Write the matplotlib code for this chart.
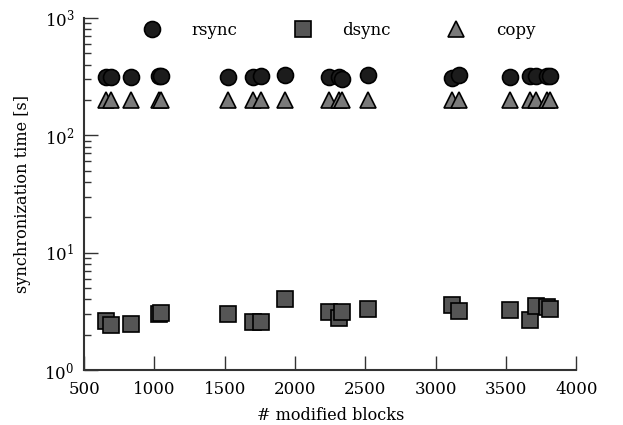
import matplotlib
matplotlib.use("Agg")
import matplotlib.pyplot as plt

# data
blocks = [654, 692, 832, 1036, 1048, 1522, 1704, 1757, 1930, 2238,
          2311, 2333, 2522, 3113, 3167, 3530, 3672, 3712, 3791, 3810]
rsync = [313, 313, 313, 318, 318, 313, 313, 318, 324, 313,
         313, 303, 324, 306, 328, 313, 318, 318, 318, 318]
dsync = [2.63, 2.42, 2.45, 2.98, 3.04, 3.0, 2.55, 2.55, 4.05, 3.10,
         2.79, 3.10, 3.31, 3.58, 3.2, 3.25, 2.70, 3.51, 3.46, 3.29]
copy = [199, 199, 199, 199, 199, 199, 199, 199, 199, 199,
        199, 199, 199, 199, 199, 199, 199, 199, 199, 199]

plt.rcParams['font.family'] = ['DejaVu Serif']
plt.rcParams['mathtext.fontset'] = 'dejavuserif'
plt.rcParams['font.size'] = 12

fig = plt.figure(figsize=(6.23, 4.25), dpi=100)
ax = fig.add_axes([0.135, 0.129, 0.79, 0.829])

ax.plot(blocks, rsync, 'o', ms=11.5, mfc='#1c1c1c', mec='black', mew=1.2, label='rsync', ls='none')
ax.plot(blocks, dsync, 's', ms=11, mfc='#555555', mec='black', mew=1.2, label='dsync', ls='none')
ax.plot(blocks, copy, '^', ms=11, mfc='#7a7a7a', mec='black', mew=1.2, label='copy', ls='none')

ax.set_yscale('log')
ax.set_ylim(1, 1000)
ax.set_xlim(500, 4000)
ax.set_xticks([500, 1000, 1500, 2000, 2500, 3000, 3500, 4000])
ax.set_xlabel('# modified blocks', fontsize=11.6, labelpad=6)
ax.set_ylabel('synchronization time [s]', fontsize=11.6, labelpad=10)

for s in ['top', 'right']:
    ax.spines[s].set_visible(False)
for s in ['left', 'bottom']:
    ax.spines[s].set_linewidth(1.5)
    ax.spines[s].set_color('#333333')

ax.tick_params(which='major', direction='in', length=10, width=1, color='#333333')
ax.tick_params(which='minor', direction='in', length=5, width=1, color='#333333')
ax.tick_params(axis='x', which='minor', length=0)
ax.tick_params(axis='y', which='both', pad=7)
ax.tick_params(axis='x', which='major', pad=8)

ax.legend(ncol=3, loc='upper left', bbox_to_anchor=(0.09, 1.03), frameon=False,
          handlelength=1.0, handletextpad=1.9, columnspacing=3.4, numpoints=1)

fig.savefig('out.png', dpi=100)
